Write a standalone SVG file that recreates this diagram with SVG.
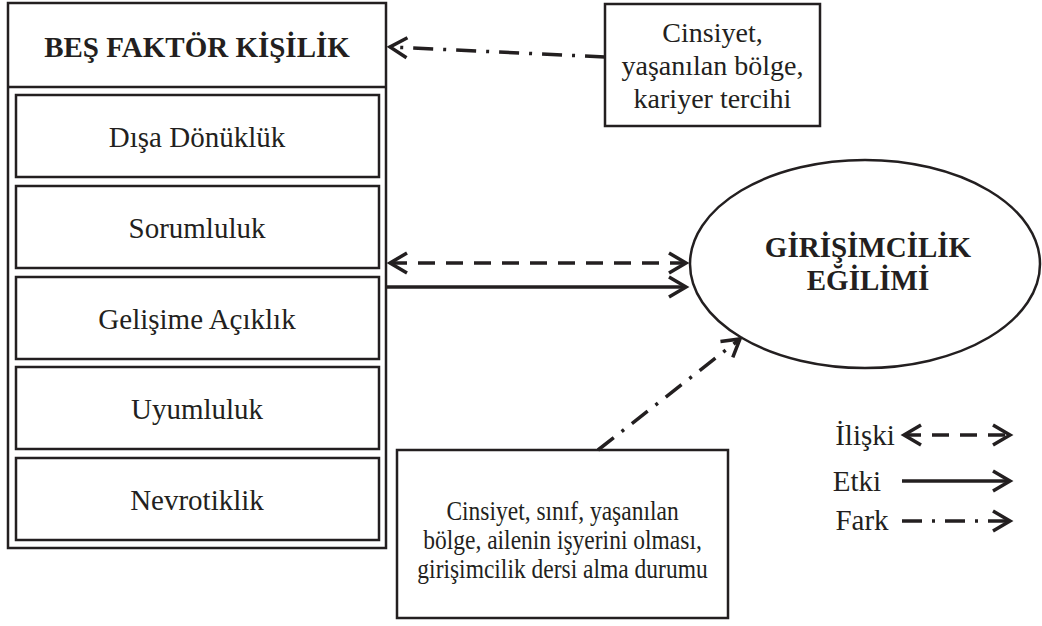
<svg xmlns="http://www.w3.org/2000/svg" width="1042" height="626" viewBox="0 0 1042 626">
<defs>
<marker id="ah" markerUnits="userSpaceOnUse" viewBox="0 0 24 24" markerWidth="24" markerHeight="24" refX="20" refY="12" orient="auto-start-reverse">
<path d="M3,2 L20,12 L3,22" fill="none" stroke="#231f20" stroke-width="3.5"/>
</marker>
</defs>
<rect width="1042" height="626" fill="#fff"/>
<g id="bes-faktor">
<rect x="8" y="3" width="378" height="545" fill="#fff" stroke="#231f20" stroke-width="2.5"/>
<line x1="8" y1="87" x2="386" y2="87" stroke="#231f20" stroke-width="2.5"/>
<text x="197" y="57" font-family="Liberation Serif" font-size="29" font-weight="bold" fill="#231f20" text-anchor="middle">BEŞ FAKTÖR KİŞİLİK</text>
</g>
<g id="disa-donukluk">
<rect x="16" y="95" width="363" height="82" fill="#fff" stroke="#231f20" stroke-width="2.5"/>
<text x="197" y="147" font-family="Liberation Serif" font-size="29" fill="#231f20" text-anchor="middle">Dışa Dönüklük</text>
</g>
<g id="sorumluluk">
<rect x="16" y="186" width="363" height="82" fill="#fff" stroke="#231f20" stroke-width="2.5"/>
<text x="197" y="238" font-family="Liberation Serif" font-size="29" fill="#231f20" text-anchor="middle">Sorumluluk</text>
</g>
<g id="gelisime-aciklik">
<rect x="16" y="277" width="363" height="82" fill="#fff" stroke="#231f20" stroke-width="2.5"/>
<text x="197" y="329" font-family="Liberation Serif" font-size="29" fill="#231f20" text-anchor="middle">Gelişime Açıklık</text>
</g>
<g id="uyumluluk">
<rect x="16" y="367" width="363" height="82" fill="#fff" stroke="#231f20" stroke-width="2.5"/>
<text x="197" y="419" font-family="Liberation Serif" font-size="29" fill="#231f20" text-anchor="middle">Uyumluluk</text>
</g>
<g id="nevrotiklik">
<rect x="16" y="458" width="363" height="82" fill="#fff" stroke="#231f20" stroke-width="2.5"/>
<text x="197" y="510" font-family="Liberation Serif" font-size="29" fill="#231f20" text-anchor="middle">Nevrotiklik</text>
</g>
<g id="demografik-1">
<rect x="605" y="4" width="215" height="122" fill="#fff" stroke="#231f20" stroke-width="2.5"/>
<text x="712.5" y="42" font-family="Liberation Serif" font-size="28" fill="#231f20" text-anchor="middle">Cinsiyet,</text>
<text x="712.5" y="75" font-family="Liberation Serif" font-size="28" fill="#231f20" text-anchor="middle">yaşanılan bölge,</text>
<text x="712.5" y="108" font-family="Liberation Serif" font-size="28" fill="#231f20" text-anchor="middle">kariyer tercihi</text>
</g>
<g id="girisimcilik">
<ellipse cx="865" cy="264" rx="175" ry="104" fill="#fff" stroke="#231f20" stroke-width="2.5"/>
<text x="868" y="257" font-family="Liberation Serif" font-size="29" font-weight="bold" fill="#231f20" text-anchor="middle">GİRİŞİMCİLİK</text>
<text x="868" y="290" font-family="Liberation Serif" font-size="29" font-weight="bold" fill="#231f20" text-anchor="middle">EĞİLİMİ</text>
</g>
<g id="demografik-2">
<rect x="397" y="450" width="331" height="168" fill="#fff" stroke="#231f20" stroke-width="2.5"/>
<text transform="translate(562.5,520) scale(1,1.12)" font-family="Liberation Serif" font-size="23.5" fill="#231f20" text-anchor="middle">Cinsiyet, sınıf, yaşanılan</text>
<text transform="translate(562.5,549) scale(1,1.12)" font-family="Liberation Serif" font-size="23.5" fill="#231f20" text-anchor="middle">bölge, ailenin işyerini olması,</text>
<text transform="translate(562.5,578) scale(1,1.12)" font-family="Liberation Serif" font-size="23.5" fill="#231f20" text-anchor="middle">girişimcilik dersi alma durumu</text>
</g>
<g id="legend">
<text x="865" y="445" font-family="Liberation Serif" font-size="29" fill="#231f20" text-anchor="middle">İlişki</text>
<text x="857" y="491" font-family="Liberation Serif" font-size="29" fill="#231f20" text-anchor="middle">Etki</text>
<text x="862" y="530" font-family="Liberation Serif" font-size="29" fill="#231f20" text-anchor="middle">Fark</text>
</g>
<g id="connectors" fill="none" stroke="#231f20" stroke-width="3.5">
<path d="M605,57 L390,47" stroke-dasharray="20 10 3 10" marker-end="url(#ah)"/>
<path d="M390,263 L686,263" stroke-dasharray="17 11" marker-start="url(#ah)" marker-end="url(#ah)"/>
<path d="M387,287 L686,287" marker-end="url(#ah)"/>
<path d="M598,450 L740,339" stroke-dasharray="20 10 3 10" marker-end="url(#ah)"/>
<path d="M904,435 L1010,435" stroke-dasharray="17 11" marker-start="url(#ah)" marker-end="url(#ah)"/>
<path d="M902,481 L1010,481" marker-end="url(#ah)"/>
<path d="M902,521 L1010,521" stroke-dasharray="20 10 3 10" marker-end="url(#ah)"/>
</g>
</svg>
